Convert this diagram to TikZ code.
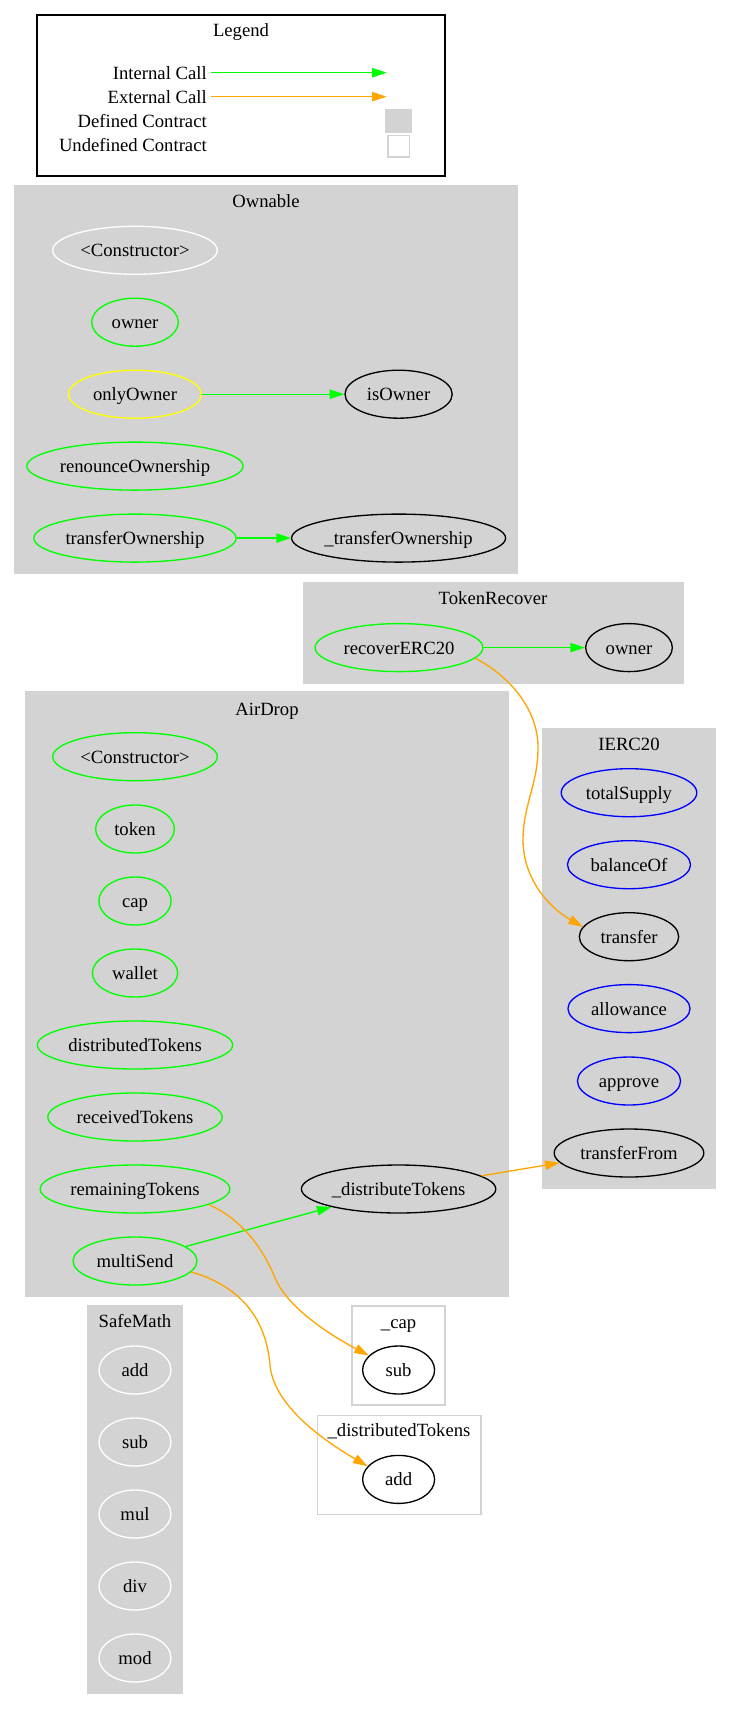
\documentclass[tikz,border=0pt]{standalone}
\usepackage{fontspec}
\setmainfont{Liberation Serif}
\usetikzlibrary{shapes.geometric,arrows.meta}
\definecolor{lgray}{RGB}{211,211,211}
\definecolor{gvgreen}{RGB}{0,255,0}
\definecolor{gvorange}{RGB}{255,165,0}
\definecolor{gvblue}{RGB}{0,0,255}
\definecolor{gvyellow}{RGB}{255,255,0}
\begin{document}
\begin{tikzpicture}[x=0.75pt,y=-0.75pt,
  every node/.style={font=\fontsize{14}{17}\selectfont, inner sep=0pt, text height=12pt, text depth=2.2pt},
  fn/.style={ellipse, draw, line width=1pt, minimum height=36pt},
  grn/.style={fn, draw=gvgreen},
  blk/.style={fn, draw=black},
  blu/.style={fn, draw=gvblue},
  yel/.style={fn, draw=gvyellow},
  wht/.style={fn, draw=white},
  cluster/.style={fill=lgray, draw=lgray, line width=1pt},
  ucluster/.style={fill=white, draw=lgray, line width=1pt},
  call/.style={line width=1pt, -{Triangle[length=11pt,width=7pt]}},
  intcall/.style={call, draw=gvgreen, fill=none},
  extcall/.style={call, draw=gvorange, fill=none}]
\useasboundingbox (0,0) rectangle (731,1709);
\fill[white] (0,0) rectangle (731,1709);

% ---------------- Legend
\draw[line width=1pt] (37,15) rectangle (445,176);
\node (legTitle) at (241,30) {Legend};
\node[anchor=east] (lInt) at (207,72.7) {Internal Call};
\node[anchor=east] (lExt) at (207,96.7) {External Call};
\node[anchor=east] (lDef) at (207,121) {Defined Contract};
\node[anchor=east] (lUnd) at (207,145.4) {Undefined Contract};
\coordinate (lIntEnd) at (386.7,72.7);
\coordinate (lExtEnd) at (386.7,96.7);
\draw[intcall] ([xshift=3pt]lInt.east) -- (lIntEnd);
\draw[extcall] ([xshift=3pt]lExt.east) -- (lExtEnd);
\node[draw=lgray, fill=lgray, line width=1pt, minimum width=19pt, minimum height=17pt, text height=0pt, text depth=0pt] (lDefBox) at (398.5,120.7) {};
\node[draw=lgray, fill=white, line width=1pt, minimum width=16pt, minimum height=16pt, text height=0pt, text depth=0pt] (lUndBox) at (398.5,146.3) {};

% ---------------- Clusters
\draw[cluster] (15,186) rectangle (517,573);
\draw[cluster] (304,583) rectangle (683,683);
\draw[cluster] (26,692) rectangle (508,1296);
\draw[cluster] (543,729) rectangle (715,1188);
\draw[cluster] (88,1306) rectangle (182,1693);
\draw[ucluster] (352,1306) rectangle (445,1405);
\draw[ucluster] (317.5,1415.6) rectangle (481,1514.3);

\node (tOwnable) at (266,201) {Ownable};
\node (tTokenRecover) at (493,598) {TokenRecover};
\node (tAirDrop) at (267,708.5) {AirDrop};
\node (tIERC) at (629,744) {IERC20};
\node (tSafeMath) at (135,1321) {SafeMath};
\node (tCap) at (398.6,1322) {\_cap};
\node (tDistTok) at (399,1430) {\_distributedTokens};

% ---------------- Ownable
\node[wht, minimum width=123.4pt] (owCon) at (135,250.3) {<Constructor>};
\node[grn, minimum width=65pt] (owOwner) at (135,322.2) {owner};
\node[yel, minimum width=99.6pt] (owOnly) at (135,394.2) {onlyOwner};
\node[blk, minimum width=80.4pt] (owIs) at (398.6,394.2) {isOwner};
\node[grn, minimum width=162.2pt] (owRen) at (135,466.1) {renounceOwnership};
\node[grn, minimum width=151.7pt] (owTO) at (135,538.1) {transferOwnership};
\node[blk, minimum width=160.5pt] (owTO2) at (398.6,538.1) {\_transferOwnership};

% ---------------- TokenRecover
\node[grn, minimum width=125.9pt] (trRec) at (399,647.6) {recoverERC20};
\node[blk, minimum width=65pt] (trOwner) at (629,647.6) {owner};

% ---------------- AirDrop
\node[grn, minimum width=123.4pt] (adCon) at (135,756.7) {<Constructor>};
\node[grn, minimum width=59.1pt] (adToken) at (135,829) {token};
\node[grn, minimum width=54.2pt] (adCap) at (135,901) {cap};
\node[grn, minimum width=64pt] (adWallet) at (135,973) {wallet};
\node[grn, minimum width=146.5pt] (adDistTok) at (135,1045) {distributedTokens};
\node[grn, minimum width=130.8pt] (adRecv) at (135,1117) {receivedTokens};
\node[grn, minimum width=142.3pt] (adRem) at (135,1189) {remainingTokens};
\node[grn, minimum width=93pt] (adMS) at (135,1261) {multiSend};
\node[blk, minimum width=145.8pt] (adDist) at (398.6,1189) {\_distributeTokens};

% ---------------- IERC20
\node[blu, minimum width=101.7pt] (erTS) at (629,792.7) {totalSupply};
\node[blu, minimum width=92.3pt] (erBal) at (629,864.7) {balanceOf};
\node[blk, minimum width=74.5pt] (erTransfer) at (629,936.7) {transfer};
\node[blu, minimum width=91.6pt] (erAllow) at (629,1008.6) {allowance};
\node[blu, minimum width=77.3pt] (erApprove) at (629,1081) {approve};
\node[blk, minimum width=112.2pt] (erTF) at (629,1153) {transferFrom};

% ---------------- SafeMath
\node[wht, minimum width=54pt] (smAdd) at (135,1370) {add};
\node[wht, minimum width=54pt] (smSub) at (135,1442) {sub};
\node[wht, minimum width=54pt] (smMul) at (135,1514) {mul};
\node[wht, minimum width=54pt] (smDiv) at (135,1586) {div};
\node[wht, minimum width=54pt] (smMod) at (135,1658) {mod};

% ---------------- undefined
\node[blk, minimum width=54pt] (capSub) at (398.6,1370) {sub};
\node[blk, minimum width=54pt] (dtAdd) at (398.6,1479.4) {add};

% ---------------- Edges
\draw[intcall] (owOnly) -- (owIs);
\draw[intcall] (owTO) -- (owTO2);
\draw[intcall] (trRec) -- (trOwner);
\draw[extcall] (trRec.-8) .. controls (510,676) and (538,710) .. (538,747)
   .. controls (538,785) and (523,805) .. (523,840)
   .. controls (523,875) and (545,905) .. (erTransfer.168);
\draw[extcall] (adDist.9) -- (erTF.188.5);
\draw[intcall] (adMS.16) -- (adDist.-165);
\draw[extcall] (adRem.-12) .. controls (238,1217) and (262,1245) .. (275,1278)
   .. controls (288,1308) and (330,1335) .. (capSub.154);
\draw[extcall] (adMS.-11.6) .. controls (240,1286) and (266,1318) .. (270,1365)
   .. controls (274,1410) and (335,1447) .. (dtAdd.157);
\end{tikzpicture}
\end{document}
